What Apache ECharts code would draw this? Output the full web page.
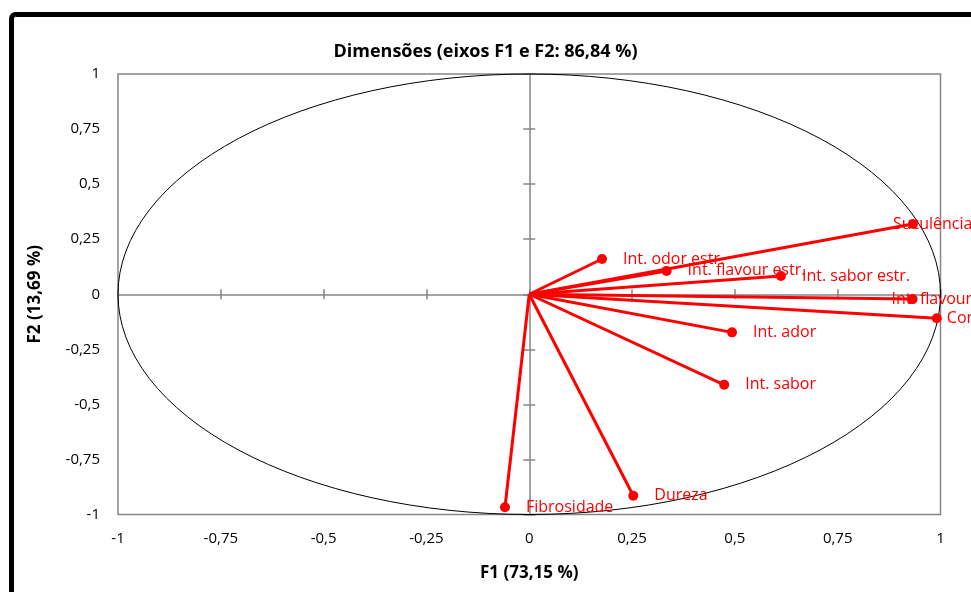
<!DOCTYPE html>
<html>
<head>
<meta charset="utf-8">
<script src="https://cdn.jsdelivr.net/npm/echarts@6/dist/echarts.min.js"></script>
<style>
  html, body { margin: 0; padding: 0; background: #fff; }
  #chart { width: 971px; height: 592px; }
</style>
</head>
<body>
<div id="chart"></div>
<script>
// variáveis (coordenadas F1, F2)
const names = ["Suculência", "Int. odor estr.", "Int. flavour estr.", "Int. sabor estr.", "Int. flavour", "Cor", "Int. ador", "Int. sabor", "Dureza", "Fibrosidade"];
const f1 = [0.933, 0.177, 0.334, 0.612, 0.932, 0.991, 0.493, 0.474, 0.253, -0.059];
const f2 = [0.319, 0.160, 0.106, 0.083, -0.022, -0.109, -0.173, -0.411, -0.915, -0.967];
// deslocamento das etiquetas (px)
const labelShift = [-41, 0, 0, 0, -42, -11, 0, 0, 0, 0];

const red = "#ff0000";
const grey = "#868686";
const font = "'Open Sans', 'Liberation Sans', sans-serif";
const fmt = (v) => String(v).replace(".", ",");

const chart = echarts.init(document.getElementById("chart"));

const points = names.map((n, i) => ({ name: n, value: [f1[i], f2[i]] }));
const vectors = names.map((n, i) => ({ coords: [[0, 0], [f1[i], f2[i]]] }));

// eixo base
const baseX = { type: "value", min: -1, max: 1, interval: 0.25, splitLine: { show: false } };
const baseY = { type: "value", min: -1, max: 1, interval: 0.25, splitLine: { show: false } };

chart.setOption({
  animation: false,
  textStyle: { fontFamily: font },
  title: {
    text: "Dimensões (eixos F1 e F2: 86,84 %)",
    left: "center",
    top: 38,
    textStyle: { fontSize: 18, fontWeight: "bold", color: "#000", fontFamily: font },
  },
  graphic: [
    {
      type: "rect",
      shape: { x: 11.5, y: 14.5, width: 1200, height: 800, r: 4 },
      style: { fill: "none", stroke: "#000", lineWidth: 5 },
    },
  ],
  grid: {
    left: 118,
    right: 30.5,
    top: 74,
    bottom: 77.5,
    show: true,
    borderColor: grey,
    borderWidth: 1.5,
  },
  xAxis: [
    {
      ...baseX,
      position: "bottom",
      axisLine: { show: false, onZero: false },
      axisTick: { show: false },
      axisLabel: { margin: 17, fontSize: 15, color: "#000", formatter: fmt },
      name: "F1 (73,15 %)",
      nameLocation: "middle",
      nameGap: 50,
      nameTextStyle: { fontSize: 17, fontWeight: "bold", color: "#000", fontFamily: font },
    },
    {
      ...baseX,
      position: "bottom",
      axisLine: { show: true, onZero: true, lineStyle: { color: grey, width: 1.5 } },
      axisTick: { show: true, inside: true, length: 5, lineStyle: { color: grey, width: 1.5 } },
      axisLabel: { show: false },
    },
    {
      ...baseX,
      position: "bottom",
      axisLine: { show: false, onZero: true },
      axisTick: { show: true, inside: false, length: 5, lineStyle: { color: grey, width: 1.5 } },
      axisLabel: { show: false },
    },
  ],
  yAxis: [
    {
      ...baseY,
      position: "left",
      axisLine: { show: false, onZero: false },
      axisTick: { show: false },
      axisLabel: { margin: 18, fontSize: 15, color: "#000", formatter: fmt },
      name: "F2 (13,69 %)",
      nameLocation: "middle",
      nameGap: 74,
      nameRotate: 90,
      nameTextStyle: { fontSize: 17, fontWeight: "bold", color: "#000", fontFamily: font },
    },
    {
      ...baseY,
      position: "left",
      axisLine: { show: true, onZero: true, lineStyle: { color: grey, width: 1.5 } },
      axisTick: { show: true, inside: true, length: 6, lineStyle: { color: grey, width: 1.5 } },
      axisLabel: { show: false },
    },
    {
      ...baseY,
      position: "left",
      axisLine: { show: false, onZero: true },
      axisTick: { show: true, inside: false, length: 6, lineStyle: { color: grey, width: 1.5 } },
      axisLabel: { show: false },
    },
  ],
  series: [
    {
      // círculo de correlação
      type: "custom",
      xAxisIndex: 0,
      yAxisIndex: 0,
      silent: true,
      z: 1,
      data: [[0, 0]],
      renderItem: function (params, api) {
        const c = api.coord([0, 0]);
        const s = api.size([1, 1]);
        const rx = s[0], ry = s[1];
        const d =
          "M" + (c[0] - rx) + " " + c[1] +
          " A" + rx + " " + ry + " 0 1 0 " + (c[0] + rx) + " " + c[1] +
          " A" + rx + " " + ry + " 0 1 0 " + (c[0] - rx) + " " + c[1] + " Z";
        return {
          type: "path",
          shape: { pathData: d },
          style: { fill: "none", stroke: "#000", lineWidth: 1 },
        };
      },
    },
    {
      type: "lines",
      coordinateSystem: "cartesian2d",
      xAxisIndex: 0,
      yAxisIndex: 0,
      z: 3,
      lineStyle: { color: red, width: 3, opacity: 1 },
      data: vectors,
    },
    {
      type: "scatter",
      xAxisIndex: 0,
      yAxisIndex: 0,
      z: 4,
      symbol: "circle",
      symbolSize: 10,
      itemStyle: { color: red, opacity: 1 },
      label: {
        show: true,
        position: "right",
        distance: 16,
        color: red,
        fontSize: 16,
        fontFamily: font,
        formatter: (p) => p.name,
      },
      labelLayout: (p) => ({ dx: labelShift[p.dataIndex], hideOverlap: false, moveOverlap: false }),
      data: points,
    },
  ],
});
</script>
</body>
</html>
